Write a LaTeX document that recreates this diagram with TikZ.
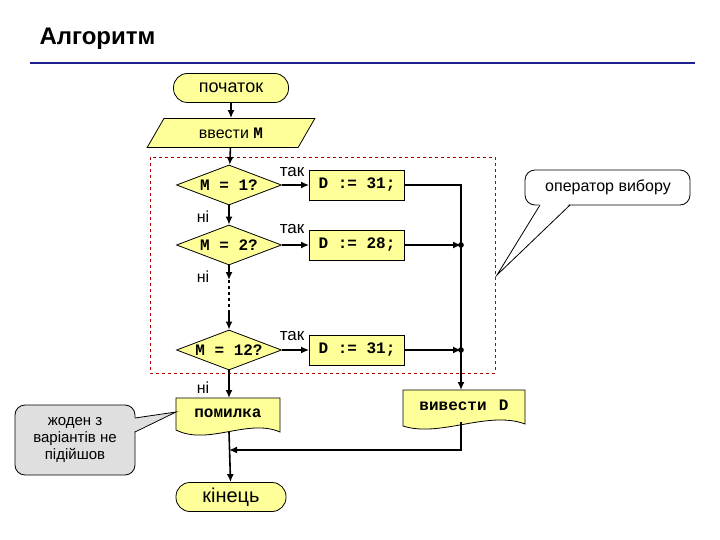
\documentclass[tikz,border=0pt]{standalone}
\usepackage{fontspec}
\setmainfont{Liberation Sans}
\newfontfamily\monof{Liberation Mono}
\usetikzlibrary{shapes.geometric,arrows.meta,calc}
\definecolor{fy}{HTML}{FFFF99}
\definecolor{navy}{HTML}{1F1F8F}
\begin{document}
\begin{tikzpicture}[x=1pt,y=-1pt,
  every node/.style={font=\fontsize{16}{18}\selectfont},
  ln/.style={line width=1.6pt},
  arr/.style={ln,-{Latex[length=8pt,width=7pt]}},
  mono/.style={font=\monof\bfseries\fontsize{16}{18}\selectfont},
  term/.style={draw,fill=fy,rounded corners=14pt,minimum width=#1,minimum height=29pt,line width=0.8pt},
  dia/.style={draw,fill=fy,diamond,aspect=2.6,minimum width=105pt,minimum height=40pt,inner sep=0pt,line width=0.8pt,mono},
  box/.style={draw,fill=fy,minimum width=95pt,minimum height=30pt,line width=0.8pt,mono},
  lab/.style={font=\fontsize{17}{19}\selectfont},
  dot/.style={circle,fill,inner sep=2pt}]
\useasboundingbox (0,0) rectangle (720,540);
\node[font=\bfseries\fontsize{24}{26}\selectfont,anchor=west] (title) at (36,39) {Алгоритм};
\draw[navy,line width=2pt] (30,63) -- (695,63);
\draw[red!70!black,dashed,line width=0.5pt] (150,157) rectangle (495,373);
\node[term=115pt,font=\fontsize{18}{20}\selectfont] (start) at (231,88) {початок};
\node[trapezium,trapezium left angle=60,trapezium right angle=120,draw,fill=fy,minimum width=120pt,minimum height=29pt,inner sep=2pt,line width=0.8pt] (in) at (231,133) {ввести {\monof\bfseries M}};
\node[dia] (d1) at (229,185) {M = 1?};
\node[dia] (d2) at (229,245) {M = 2?};
\node[dia] (d3) at (229,350) {M = 12?};
\node[box] (b1) at (357,185) {D := 31;};
\node[box] (b2) at (357,245) {D := 28;};
\node[box] (b3) at (357,350) {D := 31;};
\node[lab] (t1) at (292,172) {так};
\node[lab] (t2) at (292,229) {так};
\node[lab] (t3) at (292,336) {так};
\node (n1) at (203,217) {ні};
\node (n2) at (203,277) {ні};
\node (n3) at (203,388) {ні};
% document shapes
\coordinate (err) at (228,413);
\draw[fill=fy,line width=0.8pt] (176,398) -- (280,398) -- (280,432)
  .. controls (248,418) and (208,446) .. (176,430) -- cycle;
\node[mono] (errt) at (err) {помилка};
\coordinate (out) at (464,405);
\draw[fill=fy,line width=0.8pt] (403,390) -- (525,390) -- (525,424)
  .. controls (488,410) and (440,438) .. (403,426) -- cycle;
\node[mono] (outt) at (out) {вивести\, D};
\node[term=110pt,font=\fontsize{20}{22}\selectfont] (end) at (231,497) {кінець};
% callouts
\draw[fill=gray!25,line width=0.8pt,rounded corners=10pt] (15,405) rectangle (135,475);
\fill[gray!25] (133,418) -- (176,412) -- (133,432) -- cycle;
\draw[line width=0.8pt] (135,418) -- (176,412) -- (135,432);
\node[align=center,font=\fontsize{15}{17}\selectfont] (note2) at (75,440) {жоден з\\варіантів не\\підійшов};
\draw[line width=0.8pt,rounded corners=10pt] (525,170) rectangle (690,205);
\fill[white] (540,203) -- (497,275) -- (570,203) -- cycle;
\draw[line width=0.8pt] (540,205) -- (497,275) -- (570,205);
\node[font=\fontsize{16}{18}\selectfont] (note1) at (608,187) {оператор вибору};
% connectors
\draw[arr] (start) -- (in);
\draw[arr] (in) -- (d1);
\draw[arr] (d1) -- (d2);
\draw[arr] (d1) -- (b1);
\draw[arr] (d2) -- (b2);
\draw[arr] (d3) -- (b3);
\coordinate (j2) at (461,245);
\coordinate (j3) at (461,350);
\coordinate (c1) at (461,185);
\coordinate (otop) at (461,390);
\draw[arr] (b2) -- (j2);
\draw[arr] (b3) -- (j3);
\node[dot] at (j2) {};
\node[dot] at (j3) {};
\draw[arr] (b1.east) -- (c1) -- (otop);
\coordinate (g1) at (229,280);
\coordinate (g2) at (229,310);
\draw[arr] (d2.south) -- (g1);
\draw[ln,dashed] (g1) -- (g2);
\draw[arr] (g2) -- (d3.north);
\coordinate (etop) at (229,398);
\coordinate (ebot) at (229,432);
\coordinate (obot) at (461,422);
\draw[arr] (d3) -- (etop);
\coordinate (m) at (229,450);
\draw[arr] (ebot) -- (end);
\draw[arr] (obot) |- (m);
\end{tikzpicture}
\end{document}
